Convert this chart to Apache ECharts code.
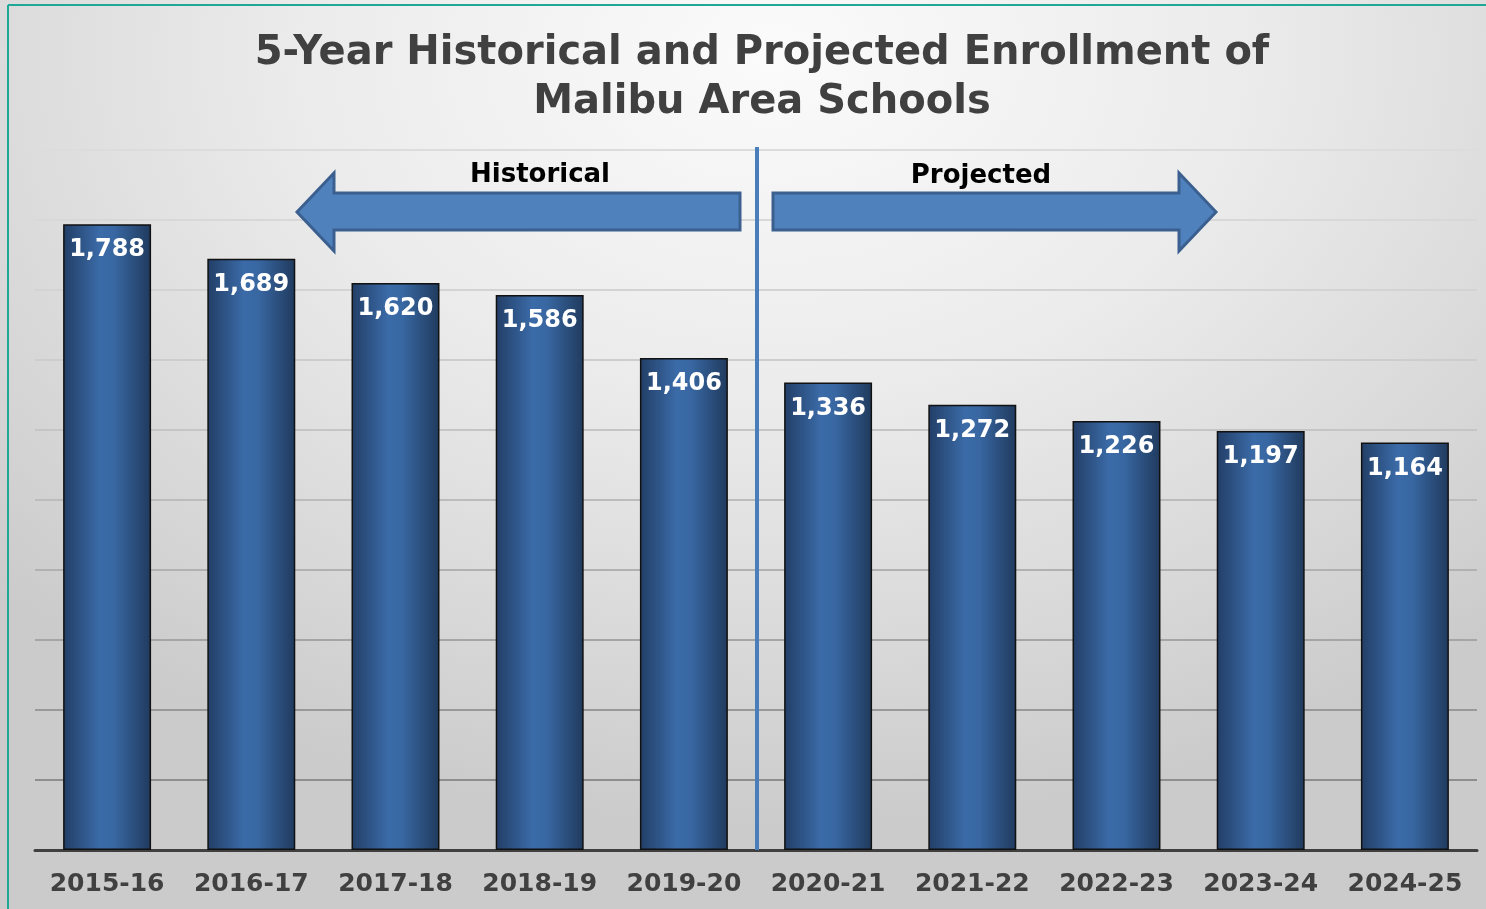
<!DOCTYPE html>
<html>
<head>
<meta charset="utf-8">
<script src="https://cdn.jsdelivr.net/npm/echarts@6/dist/echarts.min.js"></script>
<style>
  html, body { margin: 0; padding: 0; background: #fff; }
  #chart {
    width: 1486px;
    height: 909px;
    background: radial-gradient(ellipse 72% 85% at 52% 6%, #fbfbfb 0%, #ebebeb 45%, #d4d4d4 85%, #cbcbcb 100%);
  }
</style>
</head>
<body>
<div id="chart"></div>
<script>
// school years
const years = ["2015-16", "2016-17", "2017-18", "2018-19", "2019-20",
  "2020-21", "2021-22", "2022-23", "2023-24", "2024-25"];
// enrollment, first 5 historical, last 5 projected
const enrollment = [1788, 1689, 1620, 1586, 1406, 1336, 1272, 1226, 1197, 1164];
const titleLines = ["5-Year Historical and Projected Enrollment of", "Malibu Area Schools"];
const sectionNames = ["Historical", "Projected"];

const FONT = "'DejaVu Sans', Verdana, sans-serif";
const myChart = echarts.init(document.getElementById("chart"));

// gridlines get darker toward the bottom
const gridColors = ["#8c8c8c", "#8e8e8e", "#999999", "#a5a5a5", "#b1b1b1",
  "#bcbcbc", "#c5c5c5", "#cdcdcd", "#d3d3d3", "#d8d8d8", "#dcdcdc"];

const barGradient = new echarts.graphic.LinearGradient(0, 0, 1, 0, [
  { offset: 0, color: "#223e66" },
  { offset: 0.42, color: "#3b6ba8" },
  { offset: 0.58, color: "#3867a2" },
  { offset: 1, color: "#203a5d" },
]);

const arrowStyle = { fill: "#4f81bd", stroke: "#3b6090", lineWidth: 3 };

myChart.setOption({
  title: {
    text: titleLines.join("\n"),
    left: 757,
    top: 24,
    textAlign: "center",
    textStyle: {
      fontFamily: FONT,
      fontWeight: "bold",
      fontSize: 40,
      lineHeight: 49,
      color: "#404040",
    },
  },
  grid: {
    left: 35,
    right: 9,
    top: 150,
    bottom: 59,
  },
  xAxis: {
    type: "category",
    data: years,
    axisTick: { show: false },
    axisLine: { lineStyle: { color: "#404040", width: 3 } },
    axisLabel: {
      interval: 0,
      fontFamily: FONT,
      fontWeight: "bold",
      fontSize: 25,
      color: "#404040",
      margin: 22,
    },
  },
  yAxis: {
    type: "value",
    min: 0,
    max: 2000,
    interval: 200,
    axisLabel: { show: false },
    axisLine: { show: false },
    axisTick: { show: false },
    splitLine: {
      show: true,
      lineStyle: { color: gridColors, width: 2 },
    },
  },
  series: [
    {
      type: "bar",
      data: enrollment,
      barWidth: "61%",
      itemStyle: {
        color: barGradient,
        borderColor: "#111",
        borderWidth: 1.5,
      },
      label: {
        show: true,
        position: "insideTop",
        distance: 14,
        fontFamily: FONT,
        fontWeight: "bold",
        fontSize: 24,
        color: "#fff",
        formatter: (p) => p.value.toLocaleString("en-US"),
      },
    },
  ],
  graphic: [
    // frame edges
    { type: "line", z: 100, shape: { x1: 8, y1: 5, x2: 1486, y2: 5 }, style: { stroke: "#1fa898", lineWidth: 2 } },
    { type: "line", z: 100, shape: { x1: 8, y1: 5, x2: 8, y2: 909 }, style: { stroke: "#1fa898", lineWidth: 2 } },
    // divider between historical and projected
    { type: "line", z: 100, shape: { x1: 757, y1: 147, x2: 757, y2: 850 }, style: { stroke: "#4a7ebb", lineWidth: 4 } },
    {
      type: "polygon", z: 100,
      shape: { points: [[297, 212], [334, 173], [334, 193], [740, 193], [740, 230], [334, 230], [334, 251]] },
      style: arrowStyle,
    },
    {
      type: "polygon", z: 100,
      shape: { points: [[1216, 212], [1179, 173], [1179, 193], [773, 193], [773, 230], [1179, 230], [1179, 251]] },
      style: arrowStyle,
    },
    {
      type: "text", z: 100,
      x: 540, y: 175,
      style: { text: sectionNames[0], font: "bold 26px " + FONT, fill: "#000", align: "center", verticalAlign: "middle" },
    },
    {
      type: "text", z: 100,
      x: 981, y: 176,
      style: { text: sectionNames[1], font: "bold 26px " + FONT, fill: "#000", align: "center", verticalAlign: "middle" },
    },
  ],
});
</script>
</body>
</html>
